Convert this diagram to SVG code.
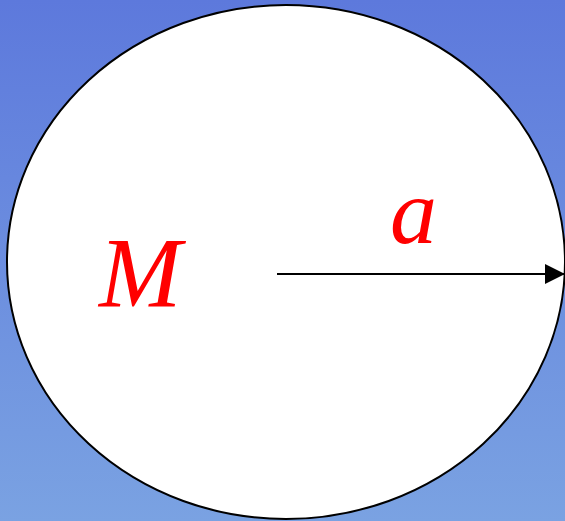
<svg xmlns="http://www.w3.org/2000/svg" width="565" height="521" viewBox="0 0 565 521">
<defs>
<linearGradient id="bg" x1="0" y1="0" x2="0" y2="1">
<stop offset="0" stop-color="#5d79dc"/>
<stop offset="1" stop-color="#7aa2e2"/>
</linearGradient>
<marker id="ah" markerWidth="20" markerHeight="20" refX="20" refY="10" orient="auto" markerUnits="userSpaceOnUse">
<path d="M0,0 L20,10 L0,20 Z" fill="#000"/>
</marker>
<style>
.lbl{font-family:"Liberation Serif","Times New Roman",serif;font-style:italic;fill:#ff0000;font-size:94px}
</style>
</defs>
<rect x="0" y="0" width="565" height="521" fill="url(#bg)"/>
<g id="disk">
<ellipse cx="286" cy="262" rx="279" ry="257" fill="#fff" stroke="#000" stroke-width="2"/>
</g>
<g id="connectors">
<line x1="277" y1="274" x2="565" y2="274" stroke="#000" stroke-width="2" marker-end="url(#ah)"/>
</g>
<g id="label-M"><text class="lbl" x="99" y="306" style="font-size:99px">M</text></g>
<g id="label-a"><text class="lbl" x="390" y="243">a</text></g>
</svg>
